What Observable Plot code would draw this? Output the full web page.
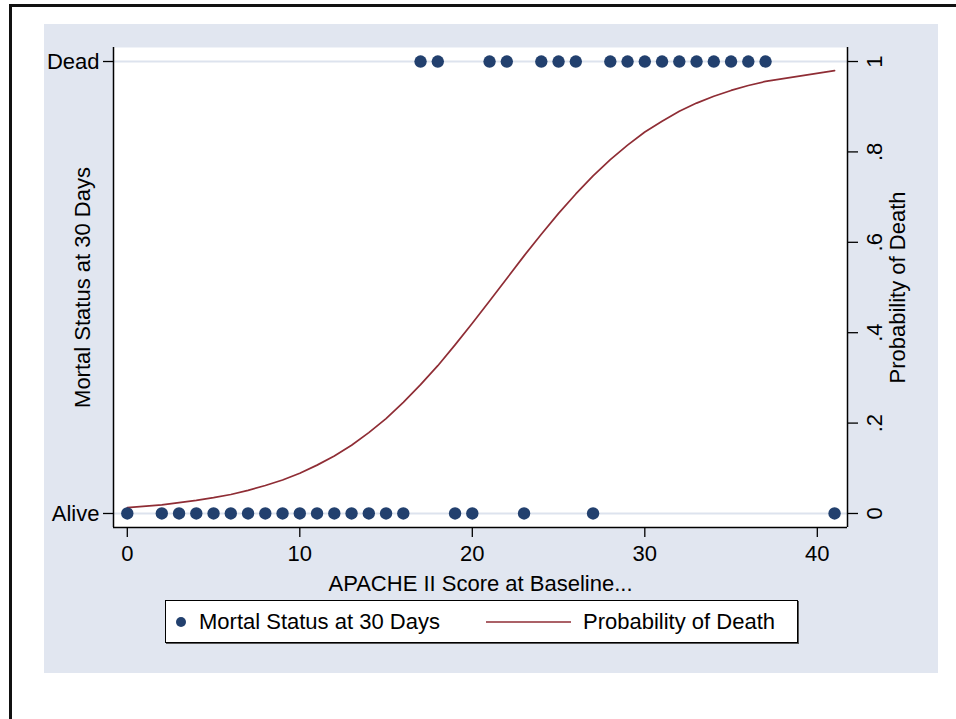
<!DOCTYPE html>
<html><head><meta charset="utf-8">
<script src="https://cdn.jsdelivr.net/npm/d3@7"></script>
<script src="https://cdn.jsdelivr.net/npm/@observablehq/plot@0.6"></script>
<style>
body{margin:0;background:#fff;font-family:"Liberation Sans",Arial,Helvetica,sans-serif;}
#wrap{position:relative;width:956px;height:719px;overflow:hidden;}
#outer{position:absolute;left:9px;top:4px;width:1000px;height:800px;border-left:3px solid #111;border-top:3px solid #111;}
#bg{position:absolute;left:44px;top:24px;width:894px;height:649px;background:#e1e6f0;}
#chart{position:absolute;left:0;top:0;}
#legend{position:absolute;left:165px;top:600px;width:631px;height:41px;background:#fff;border:1px solid #000;box-shadow:1px 1px 0 #555;font-size:22px;color:#000;}
#legend span{position:absolute;top:0;line-height:41px;white-space:nowrap;}
#legend svg{position:absolute;top:0;left:0;}
</style></head><body>
<div id="wrap"><div id="outer"></div><div id="bg"></div><div id="chart"></div><div id="legend"></div></div>
<script>
// APACHE II scores of patients alive / dead at 30 days
const aliveScores = [0,2,3,4,5,6,7,8,9,10,11,12,13,14,15,16,19,20,23,27,41];
const deadScores = [17,18,21,22,24,25,26,28,29,30,31,32,33,34,35,36,37];
const curveScores = [0,2,3,4,5,6,7,8,9,10,11,12,13,14,15,16,17,18,19,20,21,22,23,24,25,26,27,28,29,30,31,32,33,34,35,36,37,41];
const curveProb = [0.013,0.019,0.024,0.029,0.035,0.042,0.051,0.062,0.074,0.089,0.107,0.127,0.151,0.179,0.210,0.246,0.285,0.327,0.373,0.421,0.470,0.520,0.570,0.618,0.664,0.707,0.747,0.783,0.815,0.844,0.868,0.890,0.908,0.923,0.936,0.947,0.956,0.980];
const xTicks = [0,10,20,30,40];
const statusTicks = [0,1];
const statusLabels = ["Alive","Dead"];
const probTicks = [0,0.2,0.4,0.6,0.8,1];
const probLabels = ["0",".2",".4",".6",".8","1"];
const xTitle = "APACHE II Score at Baseline...";
const yTitle = "Mortal Status at 30 Days";
const y2Title = "Probability of Death";
const legendLabels = ["Mortal Status at 30 Days","Probability of Death"];

const navy = "#22406e", maroon = "#8f2d35";
const points = [
  ...aliveScores.map(s => ({score:s, status:0})),
  ...deadScores.map(s => ({score:s, status:1}))
];
const curve = curveScores.map((s,i) => ({score:s, prob:curveProb[i]}));
const xDomain = [-0.8, 41.75];
const yDomain = [-0.031, 1.031];

const chart = Plot.plot({
  width:956, height:719,
  marginLeft:113, marginRight:109, marginTop:47, marginBottom:192,
  style:{background:"transparent", fontFamily:'"Liberation Sans",Arial,sans-serif', fontSize:"22px", color:"#000"},
  x:{domain:xDomain, axis:null},
  y:{domain:yDomain, axis:null},
  marks:[
    Plot.frame({fill:"white", stroke:null}),
    Plot.ruleY(statusTicks, {stroke:"#dde3ee", strokeWidth:2}),
    Plot.line(curve, {x:"score", y:"prob", stroke:maroon, strokeWidth:1.7}),
    Plot.dot(points, {x:"score", y:"status", r:6.2, fill:navy, stroke:null}),
    Plot.ruleX([xDomain[0], xDomain[1]], {stroke:"#000", strokeWidth:1.5}),
    Plot.ruleY([yDomain[0]], {stroke:"#000", strokeWidth:1.5}),
    Plot.axisX({ticks:xTicks, tickSize:10, tickPadding:8, label:null, fontSize:22, strokeWidth:1.3, tickFormat:d => String(d)}),
    Plot.axisY({anchor:"left", ticks:statusTicks, tickSize:10, tickPadding:4, label:null, fontSize:22, strokeWidth:1.3, tickFormat:d => statusLabels[statusTicks.indexOf(d)]}),
    Plot.axisY({anchor:"right", ticks:probTicks, tickSize:10, label:null, strokeWidth:1.3, tickFormat:() => ""}),
    Plot.text(probTicks, {y:d => d, frameAnchor:"right", dx:27, rotate:-90, textAnchor:"middle", lineAnchor:"middle", text:(d,i) => probLabels[i], fontSize:22}),
    Plot.text([yTitle], {frameAnchor:"left", dx:-31, rotate:-90, textAnchor:"middle", lineAnchor:"middle", fontSize:22}),
    Plot.text([y2Title], {frameAnchor:"right", dx:50, rotate:-90, textAnchor:"middle", lineAnchor:"middle", fontSize:22}),
    Plot.text([xTitle], {frameAnchor:"bottom", dy:48, lineAnchor:"top", fontSize:22})
  ]
});
document.getElementById("chart").appendChild(chart);

const lg = document.getElementById("legend");
lg.innerHTML = `<svg width="631" height="41"><circle cx="15" cy="21" r="5" fill="${navy}"/><line x1="320" x2="405" y1="21" y2="21" stroke="${maroon}" stroke-width="1.7"/></svg>
<span style="left:33px">${legendLabels[0]}</span><span style="left:417px">${legendLabels[1]}</span>`;
</script>
</body></html>
